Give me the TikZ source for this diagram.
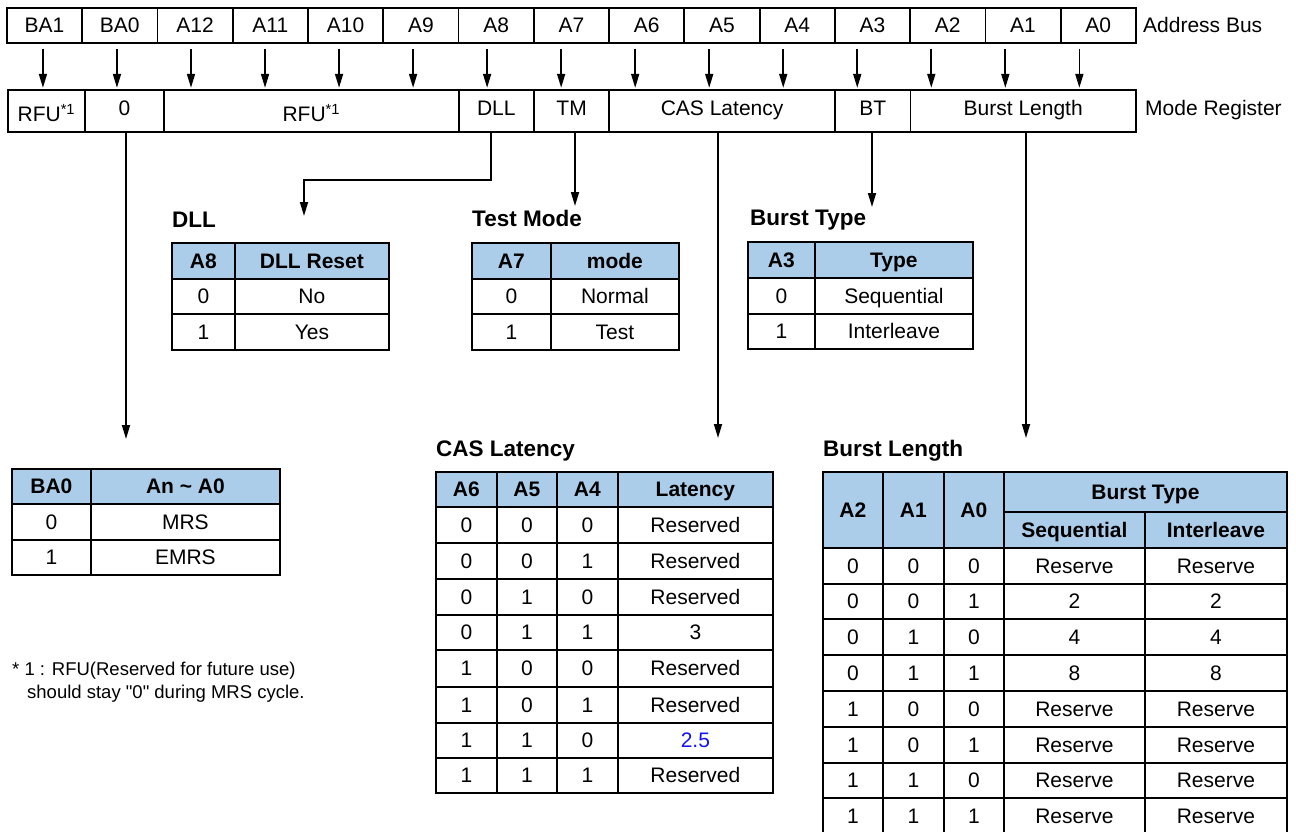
\documentclass[tikz,border=0pt]{standalone}
\usepackage{fontspec}
\setmainfont{Liberation Sans}
\newfontfamily\arialplain{Liberation Sans}
\usetikzlibrary{arrows.meta}
\definecolor{hdrblue}{RGB}{171,205,233}
\definecolor{blueval}{RGB}{20,20,245}
% name, x1, y1, x2, y2, text, style
\newcommand\tcell[7]{\node[#7, minimum width={(#4)-(#2)}, minimum height={(#5)-(#3)}, anchor=north west] (#1) at (#2,#3) {#6};}
% name prefix, x list, y1, y2, text list, style
\newcommand\trow[6]{%
  \foreach \celltxt [count=\ci] in #5 {%
    \pgfmathsetmacro\xa{{#2}[\ci-1]}%
    \pgfmathsetmacro\xb{{#2}[\ci]}%
    \tcell{#1\ci}{\xa}{#3}{\xb}{#4}{\celltxt}{#6}%
  }}
\tikzset{
  cellbox/.style={draw, line width=1.8pt, inner sep=0pt, font=\fontsize{21}{24}\selectfont, text height=15pt, text depth=0pt},
  hdrcell/.style={cellbox, fill=hdrblue, font=\fontsize{21}{24}\selectfont\bfseries},
  regcell/.style={cellbox, text depth=6pt},
  rfucell/.style={cellbox, text height=22pt, text depth=0pt},
  heading/.style={anchor=base west, inner sep=0pt, font=\fontsize{22.5}{26}\selectfont\bfseries},
  side/.style={anchor=west, inner sep=0pt, font=\fontsize{21}{24}\selectfont, text height=15pt, text depth=0pt},
  foot/.style={anchor=base west, inner sep=0pt, font=\arialplain\fontsize{18.5}{22}\selectfont},
  arr/.style={line width=1.7pt, -{Triangle[length=14pt, width=8pt]}},
}
\begin{document}
\begin{tikzpicture}[x=1pt,y=-1pt]
\fill[white] (0,0) rectangle (1296,831);
\useasboundingbox (0,0) rectangle (1296,831);

% ---------- address bus ----------
\foreach \lbl [count=\ci from 0] in {BA1,BA0,A12,A11,A10,A9,A8,A7,A6,A5,A4,A3,A2,A1,A0} {
  \pgfmathsetmacro\xa{6+75.27*\ci}
  \pgfmathsetmacro\xb{6+75.27*(\ci+1)}
  \tcell{b\ci}{\xa}{7}{\xb}{42}{\lbl}{cellbox}
}
\node[side] (abus) at (1143,24.5) {Address Bus};

% ---------- mode register ----------
\tcell{r0}{7}{89}{84}{131}{RFU\textsuperscript{*1}}{rfucell}
\tcell{r1}{84}{89}{163}{131}{0}{regcell}
\tcell{r2}{163}{89}{457.8}{131}{RFU\textsuperscript{*1}}{rfucell}
\tcell{r3}{457.8}{89}{533}{131}{DLL}{regcell}
\tcell{r4}{533}{89}{608.4}{131}{TM}{regcell}
\tcell{r5}{608.4}{89}{834}{131}{CAS Latency}{regcell}
\tcell{r6}{834}{89}{909.6}{131}{BT}{regcell}
\tcell{r7}{909.6}{89}{1135}{131}{Burst Length}{regcell}
\node[side] (mreg) at (1145,107.5) {Mode Register};

% bus -> register arrows
\foreach \ci in {0,...,14} {
  \pgfmathsetmacro\dx{-1.6-1.24*\ci}
  \draw[arr] ([xshift=\dx pt, yshift=-5pt]b\ci.south) -- ++(0,39);
}

% ---------- connectors to tables ----------
\coordinate (ba0in) at (126,439);
\coordinate (dllin) at (304,216);
\coordinate (tmin) at (575,206);
\coordinate (btin) at (872,207);
\coordinate (casin) at (718,438);
\coordinate (blin) at (1026,438);
\draw[arr] (r1.south -| ba0in) -- (ba0in);
\draw[arr] ([xshift=-5pt]r3.south) -- ++(0,47) -| (dllin);
\draw[arr] (r4.south -| tmin) -- (tmin);
\draw[arr] (r6.south -| btin) -- (btin);
\draw[arr] (r5.south -| casin) -- (casin);
\draw[arr] (r7.south -| blin) -- (blin);

% ---------- DLL table ----------
\node[heading] (hdll) at (172,227) {DLL};
\trow{dllh}{171,234,388}{242}{278}{{A8,DLL Reset}}{hdrcell}
\trow{dlla}{171,234,388}{278}{313}{{0,No}}{cellbox}
\trow{dllb}{171,234,388}{313}{349}{{1,Yes}}{cellbox}

% ---------- Test mode table ----------
\node[heading] (htm) at (472,226) {Test Mode};
\trow{tmh}{471,550,678}{242}{278}{{A7,mode}}{hdrcell}
\trow{tma}{471,550,678}{278}{313}{{0,Normal}}{cellbox}
\trow{tmb}{471,550,678}{313}{349}{{1,Test}}{cellbox}

% ---------- Burst type table ----------
\node[heading] (hbt) at (750,225) {Burst Type};
\trow{bth}{747,814,972}{241}{277}{{A3,Type}}{hdrcell}
\trow{bta}{747,814,972}{277}{313}{{0,Sequential}}{cellbox}
\trow{btb}{747,814,972}{313}{348}{{1,Interleave}}{cellbox}

% ---------- BA0 table ----------
\trow{bah}{11,90,279}{468}{503}{{BA0,An \textasciitilde{} A0}}{hdrcell}
\trow{baa}{11,90,279}{503}{539}{{0,MRS}}{cellbox}
\trow{bab}{11,90,279}{539}{574}{{1,EMRS}}{cellbox}

% ---------- footnote ----------
\node[foot] (fn1) at (12,675) {* 1 : RFU(Reserved for future use)};
\node[foot] (fn2) at (27,698) {should stay "0" during MRS cycle.};

% ---------- CAS latency table ----------
\node[heading] (hcas) at (436,456) {CAS Latency};
\trow{cash}{435,496,556,617,772}{471}{506}{{A6,A5,A4,Latency}}{hdrcell}
\foreach \vals [count=\rj] in {{0,0,0,Reserved},{0,0,1,Reserved},{0,1,0,Reserved},{0,1,1,3},{1,0,0,Reserved},{1,0,1,Reserved},{1,1,0,\textcolor{blueval}{2.5}},{1,1,1,Reserved}} {
  \pgfmathsetmacro\ya{{506,542,578,614,649,686,722,757,792}[\rj-1]}
  \pgfmathsetmacro\yb{{506,542,578,614,649,686,722,757,792}[\rj]}
  \trow{cas\rj c}{435,496,556,617,772}{\ya}{\yb}{\vals}{cellbox}
}

% ---------- Burst length table ----------
\node[heading] (hbl) at (823,456) {Burst Length};
\tcell{bla2}{822}{471}{882}{547}{A2}{hdrcell}
\tcell{bla1}{882}{471}{943}{547}{A1}{hdrcell}
\tcell{bla0}{943}{471}{1003}{547}{A0}{hdrcell}
\tcell{blbt}{1003}{471}{1286}{511}{Burst Type}{hdrcell}
\tcell{blseq}{1003}{511}{1144}{547}{Sequential}{hdrcell}
\tcell{blint}{1144}{511}{1286}{547}{Interleave}{hdrcell}
\foreach \vals [count=\rj] in {{0,0,0,Reserve,Reserve},{0,0,1,2,2},{0,1,0,4,4},{0,1,1,8,8},{1,0,0,Reserve,Reserve},{1,0,1,Reserve,Reserve},{1,1,0,Reserve,Reserve},{1,1,1,Reserve,Reserve}} {
  \pgfmathsetmacro\ya{{547,583,618,654,690,726,762,797,833}[\rj-1]}
  \pgfmathsetmacro\yb{{547,583,618,654,690,726,762,797,833}[\rj]}
  \trow{bl\rj c}{822,882,943,1003,1144,1286}{\ya}{\yb}{\vals}{cellbox}
}
\end{tikzpicture}
\end{document}
